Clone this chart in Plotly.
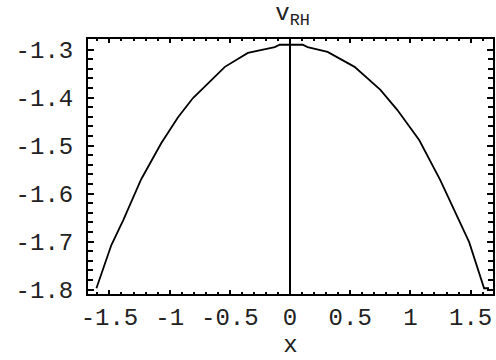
import plotly.graph_objects as go

# curve values
x_vals = [-1.608, -1.484, -1.385, -1.236, -1.070, -0.930, -0.806, -0.682, -0.541,
          -0.350, -0.127, -0.085, 0.105, 0.146, 0.312, 0.536, 0.751, 0.892,
          1.074, 1.248, 1.364, 1.488, 1.612, 1.653]
v_vals = [-1.797, -1.707, -1.655, -1.570, -1.495, -1.441, -1.401, -1.370, -1.336,
          -1.307, -1.295, -1.290, -1.290, -1.295, -1.305, -1.336, -1.384, -1.426,
          -1.489, -1.572, -1.635, -1.701, -1.797, -1.797]

x_ticks = [-1.5, -1, -0.5, 0, 0.5, 1, 1.5]
x_tick_text = ["-1.5", "-1", "-0.5", "0", "0.5", "1", "1.5"]
y_ticks = [-1.8, -1.7, -1.6, -1.5, -1.4, -1.3]
y_tick_text = ["-1.8", "-1.7", "-1.6", "-1.5", "-1.4", "-1.3"]
x_range = [-1.678, 1.686]
y_range = [-1.809, -1.278]

FONT = "Liberation Mono, Courier New, monospace"

fig = go.Figure()
fig.add_trace(go.Scatter(x=x_vals, y=v_vals, mode="lines",
                         line=dict(color="black", width=1.8), showlegend=False))
fig.add_shape(type="line", xref="x", yref="paper", x0=0, x1=0, y0=0, y1=1,
              line=dict(color="black", width=2))

fig.update_layout(
    width=496, height=360,
    margin=dict(l=88, r=1, t=39, b=66),
    paper_bgcolor="white", plot_bgcolor="white",
    font=dict(family=FONT, color="#222", size=24),
    title=dict(text="v<sub>RH</sub>", x=0.59, xanchor="center", y=0.992, yanchor="top",
               font=dict(family=FONT, size=24, color="#222")),
)
fig.update_xaxes(
    range=x_range, tickvals=x_ticks, ticktext=x_tick_text,
    showgrid=False, zeroline=False, showline=True, linecolor="black", linewidth=2,
    mirror="allticks", ticks="inside", ticklen=4, tickwidth=1.5, tickcolor="black",
    minor=dict(dtick=0.1, ticks="inside", ticklen=2, tickwidth=1.5, tickcolor="black", showgrid=False),
    tickfont=dict(family=FONT, size=24, color="#222"),
    title=dict(text="x", font=dict(family=FONT, size=24, color="#222"), standoff=0),
)
fig.update_yaxes(
    range=y_range, tickvals=y_ticks, ticktext=y_tick_text,
    showgrid=False, zeroline=False, showline=True, linecolor="black", linewidth=2,
    mirror="allticks", ticks="inside", ticklen=6, tickwidth=1.5, tickcolor="black",
    minor=dict(dtick=0.02, ticks="inside", ticklen=5, tickwidth=1.5, tickcolor="black", showgrid=False),
    tickfont=dict(family=FONT, size=24, color="#222"),
    ticklabelstandoff=8,
)

fig.write_html("out.html", config={"displayModeBar": False},
               post_script="document.body.style.margin='0';")
